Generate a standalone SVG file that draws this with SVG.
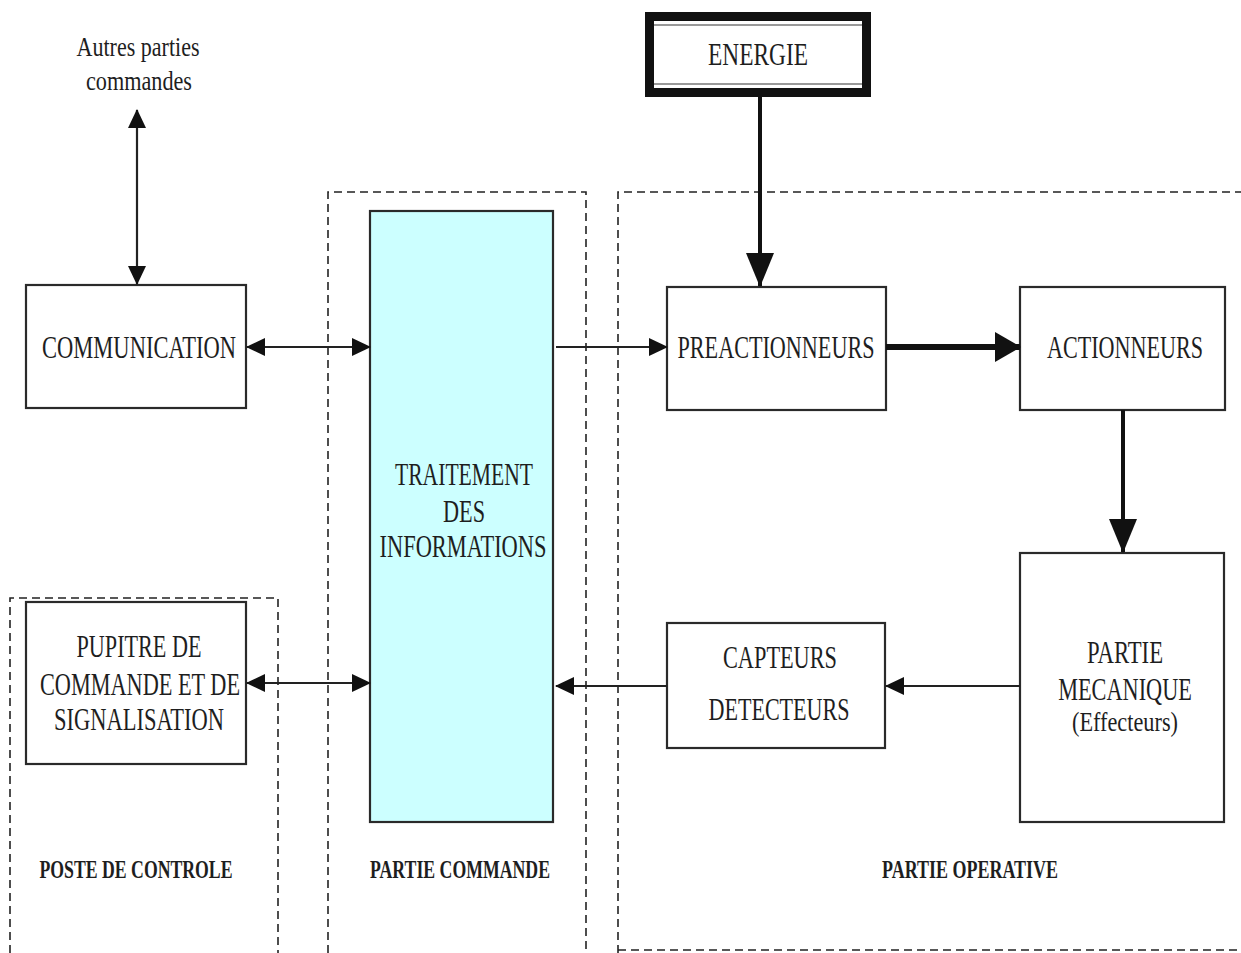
<svg xmlns="http://www.w3.org/2000/svg" width="1241" height="953" viewBox="0 0 1241 953">
<style>
.box{fill:#fff;stroke:#2a2a2a;stroke-width:2.2}
.cyan{fill:#ccffff;stroke:#2a2a2a;stroke-width:2.2}
.dash{fill:none;stroke:#222;stroke-width:1.6;stroke-dasharray:8 5}
.t{font-family:"Liberation Serif","Times New Roman",serif;font-size:31px;fill:#1e1e1e;text-anchor:middle}
.s{font-family:"Liberation Serif","Times New Roman",serif;font-size:27px;fill:#1e1e1e;text-anchor:middle}
.b{font-family:"Liberation Serif","Times New Roman",serif;font-size:26px;font-weight:bold;fill:#1e1e1e;text-anchor:middle}
.thin{stroke:#222;stroke-width:2.2;fill:none}
.thick{stroke:#111;stroke-width:4;fill:none}
.heavy{stroke:#111;stroke-width:6;fill:none}
</style>
<defs>
<marker id="ah" markerUnits="userSpaceOnUse" markerWidth="19" markerHeight="18" refX="18" refY="9" orient="auto-start-reverse" viewBox="0 0 19 18">
<path d="M0,0 L19,9 L0,18 z" fill="#111"/>
</marker>
<marker id="ahBig" markerUnits="userSpaceOnUse" markerWidth="34" markerHeight="28" refX="33" refY="14" orient="auto" viewBox="0 0 34 28">
<path d="M0,0 L34,14 L0,28 z" fill="#111"/>
</marker>
<marker id="ahMid" markerUnits="userSpaceOnUse" markerWidth="26" markerHeight="30" refX="25" refY="15" orient="auto" viewBox="0 0 26 30">
<path d="M0,0 L26,15 L0,30 z" fill="#111"/>
</marker>
</defs>

<g id="zones">
<path class="dash" d="M10,953 V598 H278 V953"/>
<path class="dash" d="M328,953 V192 H586 V953"/>
<path class="dash" d="M618,953 V192 H1241 M618,950 H1241"/>
</g>

<g id="label-autres">
<text class="s" x="138" y="56" textLength="123" lengthAdjust="spacingAndGlyphs">Autres parties</text>
<text class="s" x="139" y="90" textLength="106" lengthAdjust="spacingAndGlyphs">commandes</text>
</g>

<g id="energie">
<rect x="645" y="12" width="226" height="85" fill="#111"/>
<rect x="654" y="21" width="208" height="67" fill="#fff"/>
<line x1="654" y1="25" x2="862" y2="25" stroke="#777" stroke-width="1.5"/>
<line x1="654" y1="84" x2="862" y2="84" stroke="#777" stroke-width="1.5"/>
<text class="t" x="758" y="65" textLength="100" lengthAdjust="spacingAndGlyphs">ENERGIE</text>
</g>

<g id="communication">
<rect class="box" x="26" y="285" width="220" height="123"/>
<text class="t" x="139" y="358" textLength="194" lengthAdjust="spacingAndGlyphs">COMMUNICATION</text>
</g>

<g id="traitement">
<rect class="cyan" x="370" y="211" width="183" height="611"/>
<text class="t" x="464" y="485" textLength="138" lengthAdjust="spacingAndGlyphs">TRAITEMENT</text>
<text class="t" x="464" y="522" textLength="42" lengthAdjust="spacingAndGlyphs">DES</text>
<text class="t" x="463" y="557" textLength="167" lengthAdjust="spacingAndGlyphs">INFORMATIONS</text>
</g>

<g id="preactionneurs">
<rect class="box" x="667" y="287" width="219" height="123"/>
<text class="t" x="776" y="358" textLength="197" lengthAdjust="spacingAndGlyphs">PREACTIONNEURS</text>
</g>

<g id="actionneurs">
<rect class="box" x="1020" y="287" width="205" height="123"/>
<text class="t" transform="translate(1125,358) scale(0.7,1)" x="0" y="0" textLength="223" lengthAdjust="spacingAndGlyphs">ACTIONNEURS</text>
</g>

<g id="partie-mecanique">
<rect class="box" x="1020" y="553" width="204" height="269"/>
<text class="t" x="1125" y="663" textLength="76" lengthAdjust="spacingAndGlyphs">PARTIE</text>
<text class="t" transform="translate(1125,700) scale(0.7,1)" x="0" y="0" textLength="191" lengthAdjust="spacingAndGlyphs">MECANIQUE</text>
<text class="s" x="1125" y="731" textLength="106" lengthAdjust="spacingAndGlyphs">(Effecteurs)</text>
</g>

<g id="capteurs">
<rect class="box" x="667" y="623" width="218" height="125"/>
<text class="t" x="780" y="668" textLength="114" lengthAdjust="spacingAndGlyphs">CAPTEURS</text>
<text class="t" x="779" y="720" textLength="141" lengthAdjust="spacingAndGlyphs">DETECTEURS</text>
</g>

<g id="pupitre">
<rect class="box" x="26" y="602" width="220" height="162"/>
<text class="t" x="139" y="657" textLength="125" lengthAdjust="spacingAndGlyphs">PUPITRE DE</text>
<text class="t" x="140" y="695" textLength="200" lengthAdjust="spacingAndGlyphs">COMMANDE ET DE</text>
<text class="t" x="139" y="730" textLength="170" lengthAdjust="spacingAndGlyphs">SIGNALISATION</text>
</g>

<g id="zone-labels">
<text class="b" x="136" y="878" textLength="193" lengthAdjust="spacingAndGlyphs">POSTE DE CONTROLE</text>
<text class="b" x="460" y="878" textLength="180" lengthAdjust="spacingAndGlyphs">PARTIE COMMANDE</text>
<text class="b" x="970" y="878" textLength="176" lengthAdjust="spacingAndGlyphs">PARTIE OPERATIVE</text>
</g>

<g id="connectors">
<line class="thin" x1="137" y1="110" x2="137" y2="284" marker-start="url(#ah)" marker-end="url(#ah)"/>
<line class="thin" x1="247" y1="347" x2="370" y2="347" marker-start="url(#ah)" marker-end="url(#ah)"/>
<line class="thin" x1="556" y1="347" x2="667" y2="347" marker-end="url(#ah)"/>
<line class="thin" x1="247" y1="683" x2="370" y2="683" marker-start="url(#ah)" marker-end="url(#ah)"/>
<line class="thin" x1="667" y1="686" x2="556" y2="686" marker-end="url(#ah)"/>
<line class="thin" x1="1020" y1="686" x2="886" y2="686" marker-end="url(#ah)"/>
<line class="thick" x1="760" y1="97" x2="760" y2="286" marker-end="url(#ahBig)"/>
<line class="heavy" x1="886" y1="347" x2="1020" y2="347" marker-end="url(#ahMid)"/>
<line class="thick" x1="1123" y1="410" x2="1123" y2="552" marker-end="url(#ahBig)"/>
</g>
</svg>
